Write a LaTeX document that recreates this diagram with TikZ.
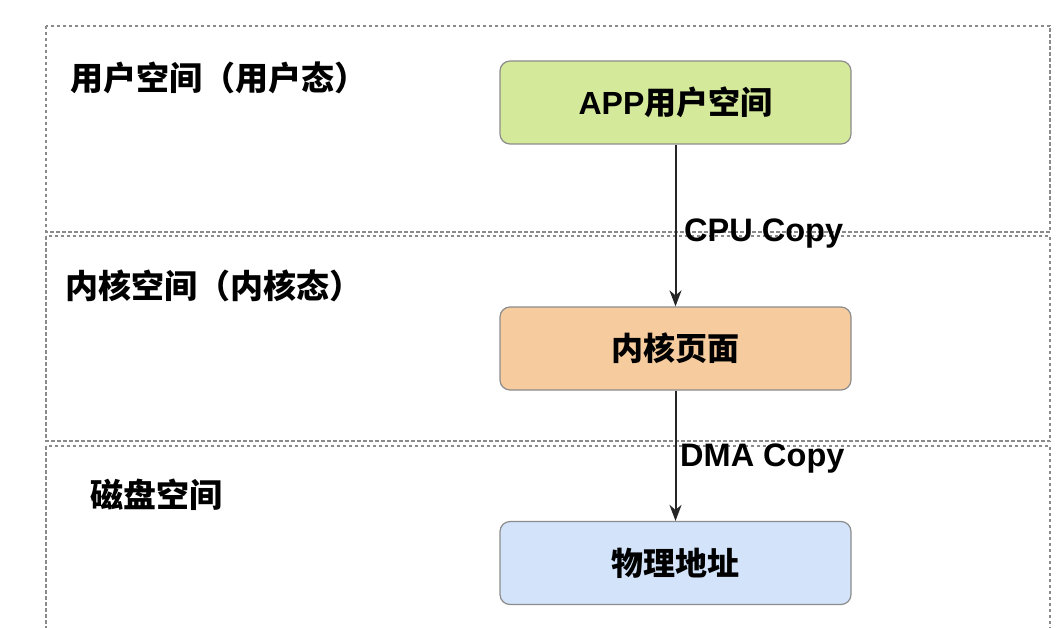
\documentclass[tikz,border=0pt]{standalone}
\usepackage{fontspec}
\setmainfont{Liberation Sans}
\newfontfamily\cjk{Noto Sans CJK SC}
\usetikzlibrary{arrows.meta}
\definecolor{framegray}{HTML}{8A8A8A}
\definecolor{boxgreen}{HTML}{D5E99A}
\definecolor{boxorange}{HTML}{F6CC9E}
\definecolor{boxblue}{HTML}{D2E3FA}
\definecolor{boxedge}{HTML}{8C8C8C}
\tikzset{
  layer/.style={draw=framegray, line width=1.4pt, dash pattern=on 3.5pt off 2.5pt},
  stepbox/.style={draw=boxedge, line width=1.2pt, rounded corners=10pt, minimum width=351pt, minimum height=83pt, inner sep=0pt, font=\fontsize{32}{36}\selectfont\bfseries},
  layertext/.style={anchor=west, inner sep=0pt, font=\fontsize{33}{36}\selectfont\cjk\bfseries},
  copytext/.style={anchor=west, inner sep=0pt, font=\fontsize{32.5}{36}\selectfont\bfseries},
  flow/.style={draw=black!85, line width=2pt, -{Stealth[length=16pt, width=12pt, inset=5pt]}}
}
\begin{document}
\begin{tikzpicture}[x=1pt, y=-1pt]
\useasboundingbox (0,0) rectangle (1064,628);
\fill[white] (0,0) rectangle (1064,628);
% layer frames
\begin{scope}
\clip (0,0) rectangle (1064,628);
\draw[layer] (46,26) rectangle (1050,232);
\draw[layer] (46,236) rectangle (1050,441);
\draw[layer] (46,446) rectangle (1050,660);
\end{scope}
% layer labels
\node[layertext] (ulab) at (70,78) {用户空间（用户态）};
\node[layertext] (klab) at (65,286) {内核空间（内核态）};
\node[layertext] (dlab) at (90,495) {磁盘空间};
% boxes
\node[stepbox, fill=boxgreen] (app) at (675.5,102.5) {APP{\cjk\bfseries 用户空间}};
\node[stepbox, fill=boxorange] (kern) at (675.5,348.5) {{\cjk\bfseries 内核页面}};
\node[stepbox, fill=boxblue] (phys) at (675.5,563) {{\cjk\bfseries 物理地址}};
% connectors
\draw[flow] (app.south) -- (kern.north);
\draw[flow] (kern.south) -- (phys.north);
\node[copytext] (cpu) at (684,234) {CPU Copy};
\node[copytext] (dma) at (680,459) {DMA Copy};
\end{tikzpicture}
\end{document}
